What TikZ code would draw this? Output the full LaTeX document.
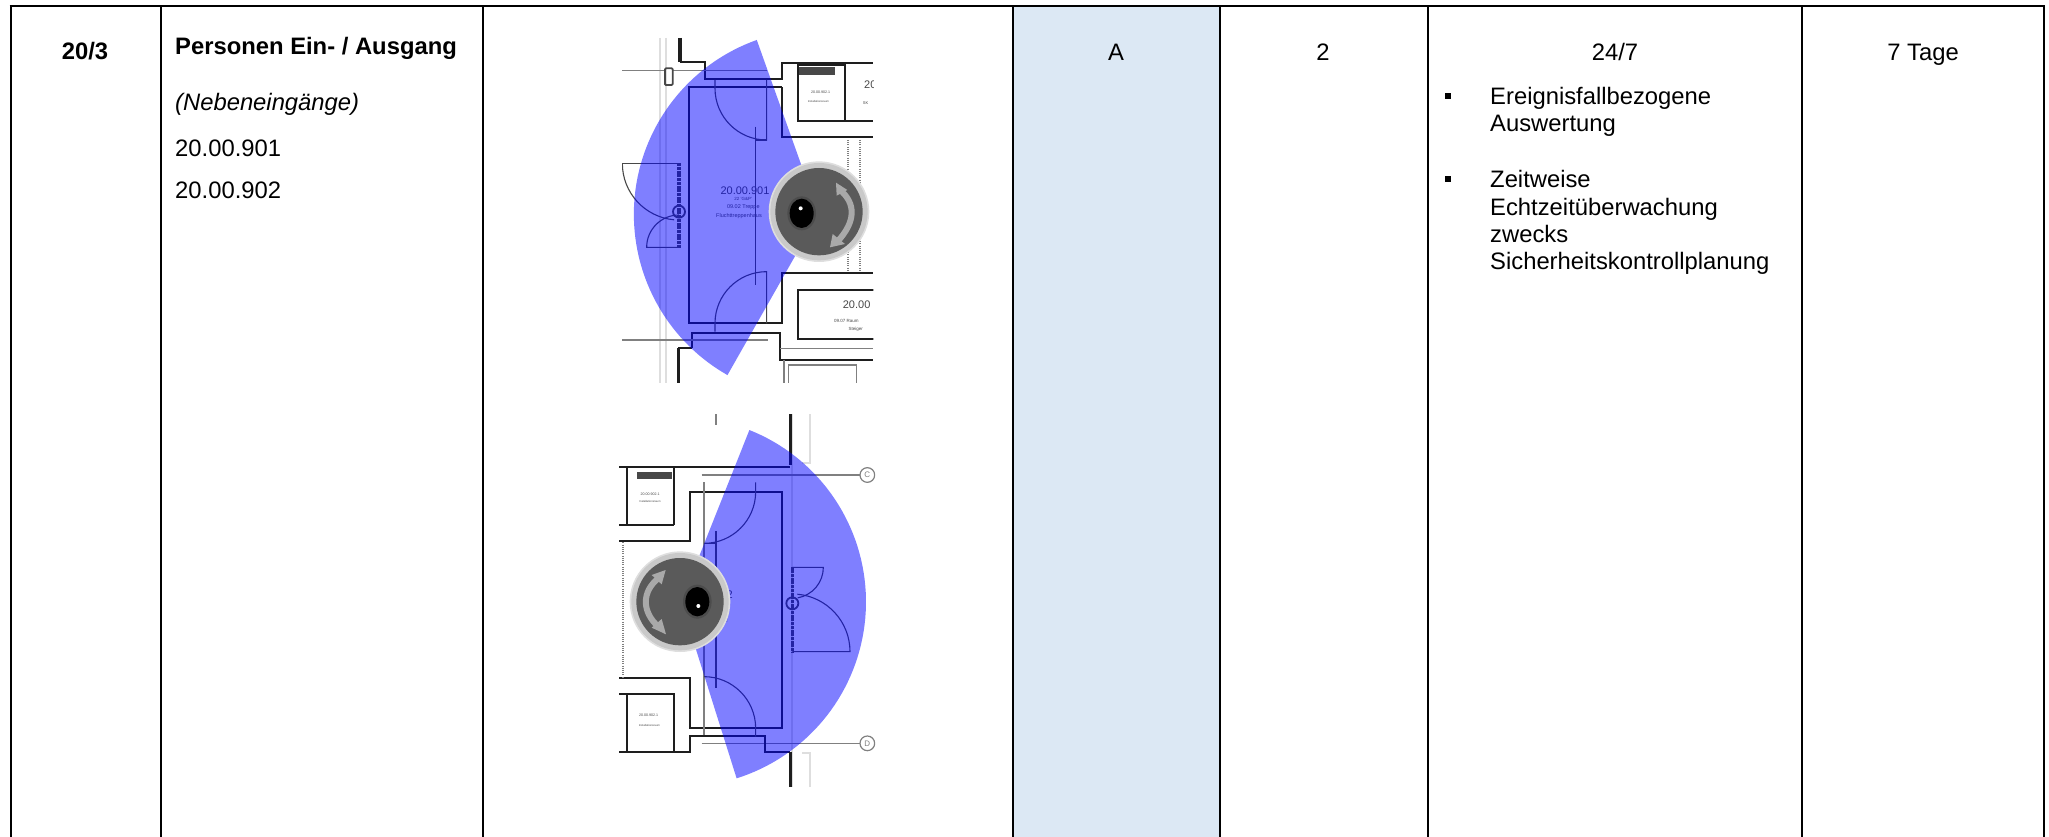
\documentclass[tikz,border=0pt]{standalone}
\usepackage{fontspec}
\setmainfont{Liberation Sans}
\definecolor{cellblue}{HTML}{DCE8F4}
\definecolor{wall}{HTML}{1E1E1E}
\definecolor{thinl}{HTML}{484848}
\definecolor{faint}{HTML}{DEDEDE}
\definecolor{midg}{HTML}{808080}
\definecolor{camring}{HTML}{C9C9C9}
\definecolor{camface}{HTML}{5A5A5A}
\definecolor{camarrow}{HTML}{A9A9A9}
\tikzset{
  rule/.style={line width=2pt,black},
  celltext/.style={inner sep=0pt,font=\fontsize{23.8}{27}\selectfont},
  lefttext/.style={celltext,anchor=base west},
  midtext/.style={celltext,anchor=base},
  bulletmark/.style={fill=black,inner sep=0pt,minimum size=6pt,rectangle},
  wallline/.style={line width=2pt,wall},
  thickwall/.style={line width=3.5pt,wall},
  thinline/.style={line width=1.1pt,thinl},
  midline/.style={line width=1.2pt,midg},
  faintline/.style={line width=2pt,faint},
  dottedwall/.style={line width=1.8pt,midg,dash pattern=on 1pt off 1.2pt},
  sector/.style={fill=blue,fill opacity=0.5,draw=none},
  tinytext/.style={inner sep=0pt,text=thinl},
}
\begin{document}
\begin{tikzpicture}[x=1pt,y=-1pt]
\useasboundingbox (0,0) rectangle (2049,837);
\fill[white] (0,0) rectangle (2049,837);
\fill[cellblue] (1013,6) rectangle (1220,837);
\draw[rule] (9.5,6) -- (2045,6);
\foreach \xx in {10.5,160.5,483,1013,1220,1428,1802,2044}
  \draw[rule] (\xx,6) -- (\xx,837);
% texts
\node[midtext,font=\fontsize{23.8}{27}\selectfont\bfseries] (nr) at (85,60) {20/3};
\node[lefttext,font=\fontsize{23.8}{27}\selectfont\bfseries] (title) at (175,55) {Personen Ein- / Ausgang};
\node[lefttext,font=\fontsize{23.8}{27}\selectfont\itshape] (sub) at (175,111) {(Nebeneingänge)};
\node[lefttext] (r1) at (175,157) {20.00.901};
\node[lefttext] (r2) at (175,198) {20.00.902};
\node[midtext] (cat) at (1116,61) {A};
\node[midtext] (two) at (1323,61) {2};
\node[midtext] (time) at (1615,61) {24/7};
\node[midtext] (keep) at (1923,61) {7 Tage};
\node[bulletmark] (b1) at (1448,96) {};
\node[bulletmark] (b2) at (1448,179) {};
\node[lefttext] (e1) at (1490,105) {Ereignisfallbezogene};
\node[lefttext] (e2) at (1490,132) {Auswertung};
\node[lefttext] (z1) at (1490,188) {Zeitweise};
\node[lefttext] (z2) at (1490,215) {Echtzeitüberwachung};
\node[lefttext] (z3) at (1490,242) {zwecks};
\node[lefttext] (z4) at (1490,269) {Sicherheitskontrollplanung};
% ---------- plan 1
\begin{scope}[shift={(610,30)},x=0.33333pt,y=-0.33333pt]
  \clip (36,24) rectangle (790,1060);
  \draw[faintline] (150,24) -- (150,1060) (168,24) -- (168,1060);
  \draw[thickwall] (210,24) -- (210,97);
  \draw[wallline] (210,97) -- (285,97) -- (285,148) -- (515,148) -- (515,100) -- (790,100);
  \draw[midline] (37,122) -- (165,122) (188,122) -- (470,122);
  \draw[line width=1.8pt,thinl,rounded corners=1pt] (165,115) rectangle (188,165);
  \draw[wallline] (515,172) -- (238,172) -- (238,880) -- (515,880) -- (515,730) -- (790,730);
  \draw[wallline] (515,172) -- (515,320) -- (790,320);
  \draw[wallline] (563,105) rectangle (705,272);
  \draw[wallline] (705,100) -- (705,272) -- (790,272);
  \fill[thinl] (568,112) rectangle (675,135);
  \draw[wallline] (563,780) rectangle (800,928);
  \draw[wallline] (245,955) -- (245,910) -- (510,910) -- (510,990) -- (790,990);
  \draw[wallline] (245,955) -- (205,955);
  \draw[thickwall] (205,955) -- (205,1060);
  \draw[midline] (37,930) -- (475,930) (510,955) -- (790,955);
  \draw[midline] (522,990) -- (522,1060) (535,1005) -- (740,1005) (535,1005) -- (535,1060) (740,1005) -- (740,1060);
  \draw[dottedwall] (715,330) -- (715,725) (750,330) -- (750,725);
  \draw[thinline] (315,150) -- (315,175) arc[start angle=180,end angle=90,radius=155] -- (470,150);
  \draw[thinline] (435,330) -- (470,330);
  \draw[thinline] (315,905) -- (315,880) arc[start angle=180,end angle=270,radius=155] -- (470,880);
  \draw[thinline] (437,290) -- (437,765);
  \draw[thinline] (37,400) -- (207,400);
  \draw[thinline] (37,400) arc[start angle=180,end angle=95,radius=170];
  \draw[thinline] (207,652) -- (110,652) arc[start angle=180,end angle=270,radius=97];
  \draw[line width=3.5pt,thinl,dash pattern=on 3pt off 0.7pt] (207,400) -- (207,655);
  \draw[line width=1.8pt,thinl] (207,545) circle[radius=18];
  \node[tinytext,font=\fontsize{11}{11}\selectfont] (pa) at (405,482) {20.00.901};
  \node[tinytext,font=\fontsize{4.5}{5}\selectfont] (pb) at (400,507) {22 'G\&P'};
  \node[tinytext,font=\fontsize{5.5}{6}\selectfont] (pc) at (400,531) {09.02 Treppe};
  \node[tinytext,font=\fontsize{5.5}{6}\selectfont] (pd) at (387,558) {Fluchttreppenhaus};
  \node[tinytext,font=\fontsize{3.6}{4}\selectfont] (pe) at (632,187) {20.00.902.1};
  \node[tinytext,font=\fontsize{2.8}{3}\selectfont] (pf) at (625,214) {Installationsraum};
  \node[tinytext,font=\fontsize{11}{11}\selectfont,anchor=west] (pg) at (762,165) {20};
  \node[tinytext,font=\fontsize{4}{5}\selectfont,anchor=west] (ph) at (758,218) {SK};
  \node[tinytext,font=\fontsize{11}{11}\selectfont,anchor=west] (pi) at (698,825) {20.00};
  \node[tinytext,font=\fontsize{4.5}{5}\selectfont,anchor=west] (pj) at (672,873) {09.07 Raum};
  \node[tinytext,font=\fontsize{4.5}{5}\selectfont,anchor=west] (pk) at (715,898) {Steiger};
  \fill[sector] (626.5,552.7) -- plot[domain=109.6:240.4,samples=70] ({626.5+555*cos(\x)},{552.7-555*sin(\x)}) -- cycle;
  \fill[faint] (627,545) circle[radius=151];
  \fill[camring] (627,545) circle[radius=146];
  \fill[camface] (627,545) circle[radius=131];
  \fill[black!70] (575,550) ellipse[x radius=43,y radius=51];
  \fill[black] (575,550) ellipse[x radius=36,y radius=44];
  \fill[white] (572,535) circle[radius=6];
  \draw[camarrow,line width=6pt] (690,480) .. controls (738,520) and (738,575) .. (682,635);
  \fill[camarrow] (678,458) -- (712,480) -- (680,497) -- cycle;
  \fill[camarrow] (660,652) -- (668,612) -- (705,642) -- cycle;
\end{scope}
% ---------- plan 2
\begin{scope}[shift={(610,405)},x=0.33333pt,y=-0.33333pt]
  \clip (27,28) rectangle (795,1146);
  \draw[faintline] (547,28) -- (547,1146);
  \draw[faintline] (600,28) -- (600,175) -- (575,175) (600,1146) -- (600,1045) -- (575,1045);
  \draw[midline] (318,28) -- (318,60);
  \draw[thickwall] (541,28) -- (541,180) (541,1040) -- (541,1146);
  \draw[wallline] (27,185) -- (541,185);
  \draw[midline] (275,210) -- (750,210) (275,1015) -- (750,1015);
  \draw[midline] (772,210) circle[radius=22] (772,1015) circle[radius=22];
  \node[tinytext,text=midg,font=\fontsize{8}{8}\selectfont] (cc) at (772,210) {C};
  \node[tinytext,text=midg,font=\fontsize{8}{8}\selectfont] (cd) at (772,1015) {D};
  \draw[wallline] (50,185) -- (50,360) (192,185) -- (192,360) (27,360) -- (192,360);
  \draw[wallline] (27,408) -- (240,408) -- (240,260) -- (515,260) -- (515,968) -- (240,968) -- (240,818) -- (27,818);
  \fill[thinl] (82,200) rectangle (187,222);
  \draw[wallline] (27,868) -- (192,868) -- (192,1040) -- (27,1040) (50,868) -- (50,1040);
  \draw[wallline] (192,1040) -- (240,1040) -- (240,992) -- (465,992) -- (465,1040) -- (541,1040);
  \draw[midline] (282,232) -- (282,990);
  \draw[dottedwall] (38,412) -- (38,815);
  \draw[thinline] (437,232) -- (437,260) arc[start angle=0,end angle=90,radius=155] -- (318,415);
  \draw[thinline] (282,815) arc[start angle=270,end angle=360,radius=155] -- (437,995);
  \draw[thinline] (318,378) -- (318,850);
  \draw[thinline] (547,487) -- (640,487) arc[start angle=0,end angle=80,radius=93];
  \draw[thinline] (547,740) -- (720,740) arc[start angle=0,end angle=-85,radius=173];
  \draw[line width=3.5pt,thinl,dash pattern=on 3pt off 0.7pt] (547,485) -- (547,742);
  \draw[line width=1.8pt,thinl] (547,595) circle[radius=18];
  \node[tinytext,font=\fontsize{11}{11}\selectfont] (qa) at (295,568) {20.00.902};
  \node[tinytext,font=\fontsize{5.5}{6}\selectfont] (qb) at (290,620) {Treppe};
  \node[tinytext,font=\fontsize{5.5}{6}\selectfont] (qc) at (270,647) {Fluchttreppenhaus Del};
  \node[tinytext,font=\fontsize{3.6}{4}\selectfont] (qd) at (120,268) {20.00.902.1};
  \node[tinytext,font=\fontsize{2.8}{3}\selectfont] (qe) at (120,290) {Installationsraum};
  \node[tinytext,font=\fontsize{3.6}{4}\selectfont] (qf) at (116,932) {20.00.902.1};
  \node[tinytext,font=\fontsize{2.8}{3}\selectfont] (qg) at (118,960) {Installationsraum};
  \fill[sector] (213,590.7) -- plot[domain=68.3:-72.5,samples=70] ({213+555*cos(\x)},{590.7-555*sin(\x)}) -- cycle;
  \fill[faint] (210,590) circle[radius=151];
  \fill[camring] (210,590) circle[radius=146];
  \fill[camface] (210,590) circle[radius=131];
  \fill[black!70] (262,590) ellipse[x radius=43,y radius=51];
  \fill[black] (262,590) ellipse[x radius=36,y radius=44];
  \fill[white] (265,603) circle[radius=6];
  \draw[camarrow,line width=6pt] (145,520) .. controls (95,560) and (95,620) .. (145,665);
  \fill[camarrow] (167,495) -- (125,510) -- (155,538) -- cycle;
  \fill[camarrow] (168,688) -- (125,668) -- (155,642) -- cycle;
\end{scope}
\end{tikzpicture}
\end{document}
